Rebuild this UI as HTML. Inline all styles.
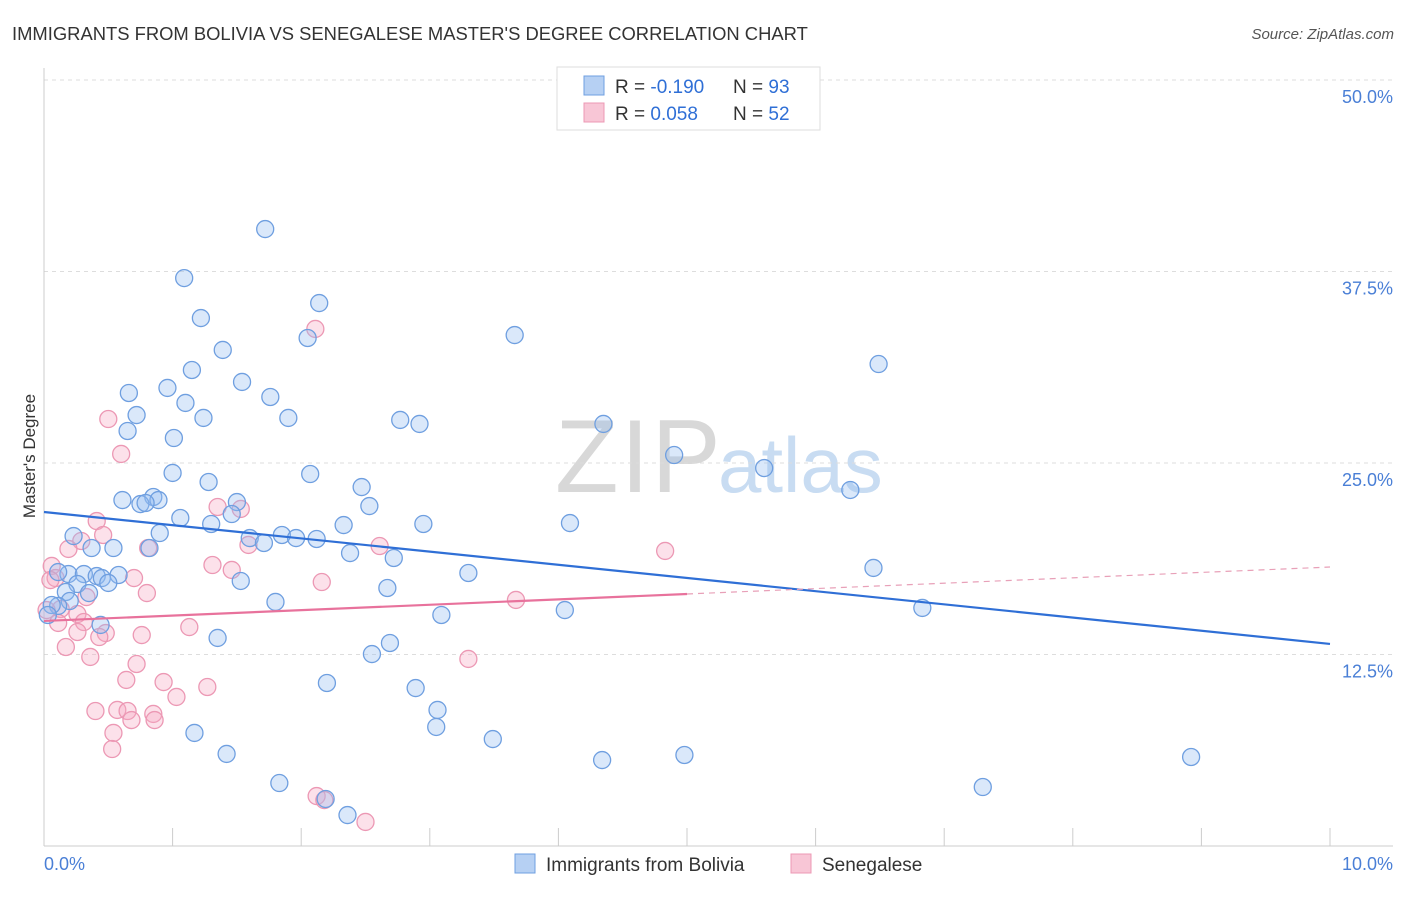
<!DOCTYPE html>
<html><head><meta charset="utf-8"><style>
body{margin:0;background:#fff;font-family:"Liberation Sans",sans-serif;}
svg text{font-family:"Liberation Sans",sans-serif;}
</style></head><body>
<svg id="chart" width="1406" height="892" viewBox="0 0 1406 892">
<text x="12" y="40" font-size="18.4" fill="#333">IMMIGRANTS FROM BOLIVIA VS SENEGALESE MASTER'S DEGREE CORRELATION CHART</text>
<text x="1394" y="39" font-size="15" fill="#555" font-style="italic" text-anchor="end">Source: ZipAtlas.com</text>
<g>
<text x="555" y="492" font-size="104" fill="#d8d8d8" font-family="Liberation Serif" letter-spacing="2">ZIP</text>
<text x="718" y="492" font-size="78" fill="#c8dcf2">atlas</text>
</g>
<g id="grid"></g>
<g id="axes"></g>
<g id="marks"></g>
<g id="trend"></g>
<text x="35" y="456" font-size="17" fill="#333" text-anchor="middle" transform="rotate(-90 35 456)">Master's Degree</text>
<g>
<rect x="557" y="67" width="263" height="63" fill="#fff" stroke="#ddd"/>
<rect x="584" y="76" width="20" height="19" fill="#b6d0f3" stroke="#6f9fe0"/>
<rect x="584" y="103" width="20" height="19" fill="#f8c6d6" stroke="#ec98b4"/>
<text x="615" y="93" font-size="19" fill="#333">R = <tspan fill="#2f6fd6">-0.190</tspan></text>
<text x="733" y="93" font-size="19" fill="#333">N = <tspan fill="#2f6fd6">93</tspan></text>
<text x="615" y="120" font-size="19" fill="#333">R = <tspan fill="#2f6fd6"> 0.058</tspan></text>
<text x="733" y="120" font-size="19" fill="#333">N = <tspan fill="#2f6fd6">52</tspan></text>
</g>
<g>
<rect x="515" y="854" width="20" height="19" fill="#b6d0f3" stroke="#6f9fe0"/>
<text x="546" y="871" font-size="19" fill="#333">Immigrants from Bolivia</text>
<rect x="791" y="854" width="20" height="19" fill="#f8c6d6" stroke="#ec98b4"/>
<text x="822" y="871" font-size="19" fill="#333">Senegalese</text>
</g>
</svg>
<script>
const yTicks=[12.5,25,37.5,50];
const yTickLabels=["12.5%","25.0%","37.5%","50.0%"];
const xTicks=[0,1,2,3,4,5,6,7,8,9,10];
const boliviaX=[1.72,1.09,2.14,1.22,2.05,3.66,1.39,6.49,1.15,0.96,0.66,1.54,1.76,1.10,0.72,1.24,1.90,2.77,2.92,4.35,0.65,1.01,4.90,5.60,1.00,2.07,1.28,2.47,6.27,0.61,0.85,0.89,0.75,0.79,1.50,2.53,1.46,1.06,1.30,2.33,2.95,4.09,0.23,0.90,1.85,1.96,2.12,1.60,1.71,0.37,0.54,0.82,2.38,2.72,0.19,0.31,0.41,0.58,0.45,0.50,0.26,3.30,6.45,1.53,0.11,2.67,0.17,0.35,0.20,0.11,0.06,1.80,3.09,4.05,6.83,0.03,0.44,1.35,2.69,2.55,2.20,2.89,3.06,3.05,1.17,3.49,1.42,4.98,4.34,8.92,1.83,7.30,2.19,2.36];
const boliviaY=[40.27,37.07,35.44,34.46,33.16,33.35,32.38,31.46,31.07,29.90,29.57,30.29,29.31,28.92,28.13,27.94,27.94,27.81,27.55,27.55,27.09,26.63,25.52,24.67,24.35,24.28,23.76,23.43,23.24,22.58,22.78,22.58,22.32,22.39,22.45,22.19,21.67,21.41,21.02,20.95,21.02,21.08,20.23,20.43,20.30,20.10,20.04,20.10,19.78,19.45,19.45,19.45,19.12,18.80,17.75,17.75,17.62,17.69,17.49,17.17,17.10,17.82,18.15,17.30,17.88,16.84,16.58,16.51,15.99,15.67,15.73,15.93,15.08,15.40,15.54,15.08,14.43,13.58,13.25,12.53,10.64,10.31,8.88,7.77,7.38,6.98,6.01,5.94,5.61,5.81,4.11,3.85,3.07,2.02];
const senegalX=[2.11,0.50,0.60,1.35,1.53,0.41,0.46,0.29,0.19,0.81,1.59,0.06,2.61,4.83,0.09,1.31,1.46,0.70,2.16,0.80,0.33,3.67,0.13,0.26,0.11,0.31,1.13,0.48,0.26,0.43,0.76,0.17,3.30,0.36,0.72,0.64,0.93,1.27,1.03,0.40,0.57,0.65,0.85,0.68,0.86,0.54,0.53,2.12,2.18,2.50,0.02,0.05];
const senegalY=[33.75,27.87,25.59,22.13,22.00,21.21,20.30,19.91,19.39,19.45,19.65,18.28,19.58,19.26,17.49,18.34,18.02,17.49,17.23,16.51,16.25,16.06,15.47,15.14,14.56,14.62,14.29,13.90,13.97,13.64,13.77,12.99,12.21,12.34,11.88,10.84,10.70,10.38,9.73,8.81,8.88,8.81,8.62,8.22,8.22,7.38,6.33,3.26,3.00,1.57,15.40,17.36];
const trendBolivia=[21.80,13.19];
const trendSenegal=[14.69,18.21];
const senegalSolidEnd=5;

const X0=44,X1=1330,Y0=846,Y50=80;
const sx=v=>X0+(X1-X0)*v/10;
const sy=v=>Y0-(Y0-Y50)*v/50;
const NS="http://www.w3.org/2000/svg";
function mk(t,attrs,parent){const e=document.createElementNS(NS,t);for(const k in attrs)e.setAttribute(k,attrs[k]);document.getElementById(parent).appendChild(e);return e;}

yTicks.forEach((v,i)=>{
  const g=mk('line',{x1:X0,x2:1393,y1:sy(v),y2:sy(v),stroke:'#ddd','stroke-dasharray':'4,4'},'grid');
  
  
  const t=mk('text',{x:1393,y:sy(v)+23,'font-size':18,fill:'#4a7fd6','text-anchor':'end'},'grid');
  t.textContent=yTickLabels[i];
  
  
});
let a=mk('line',{x1:X0,x2:X0,y1:68,y2:Y0,stroke:'#ccc'},'axes');


a=mk('line',{x1:X0,x2:1393,y1:Y0,y2:Y0,stroke:'#ccc'},'axes');


xTicks.forEach(v=>{
  const l=mk('line',{x1:sx(v),x2:sx(v),y1:828,y2:Y0,stroke:'#ccc'},'axes');
  
  
});
let t=mk('text',{x:44,y:870,'font-size':18,fill:'#4a7fd6'},'axes');t.textContent='0.0%';


t=mk('text',{x:1393,y:870,'font-size':18,fill:'#4a7fd6','text-anchor':'end'},'axes');t.textContent='10.0%';



senegalX.forEach((v,i)=>{
  const c=mk('circle',{cx:sx(v),cy:sy(senegalY[i]),r:8.5,fill:'rgba(245,170,195,0.35)',stroke:'#ec98b4','stroke-width':1.3},'marks');
  
  
});
boliviaX.forEach((v,i)=>{
  const c=mk('circle',{cx:sx(v),cy:sy(boliviaY[i]),r:8.5,fill:'rgba(150,190,240,0.35)',stroke:'#6f9fe0','stroke-width':1.3},'marks');
  
  
});
let l=mk('line',{x1:sx(0),y1:sy(trendBolivia[0]),x2:sx(10),y2:sy(trendBolivia[1]),stroke:'#2f6fd6','stroke-width':2.2},'trend');


const sm=trendSenegal[0]+(trendSenegal[1]-trendSenegal[0])*senegalSolidEnd/10;
l=mk('line',{x1:sx(0),y1:sy(trendSenegal[0]),x2:sx(senegalSolidEnd),y2:sy(sm),stroke:'#e8729c','stroke-width':2.2},'trend');


l=mk('line',{x1:sx(senegalSolidEnd),y1:sy(sm),x2:sx(10),y2:sy(trendSenegal[1]),stroke:'#e8a0b8','stroke-width':1.2,'stroke-dasharray':'6,5'},'trend');


</script>
</body></html>
